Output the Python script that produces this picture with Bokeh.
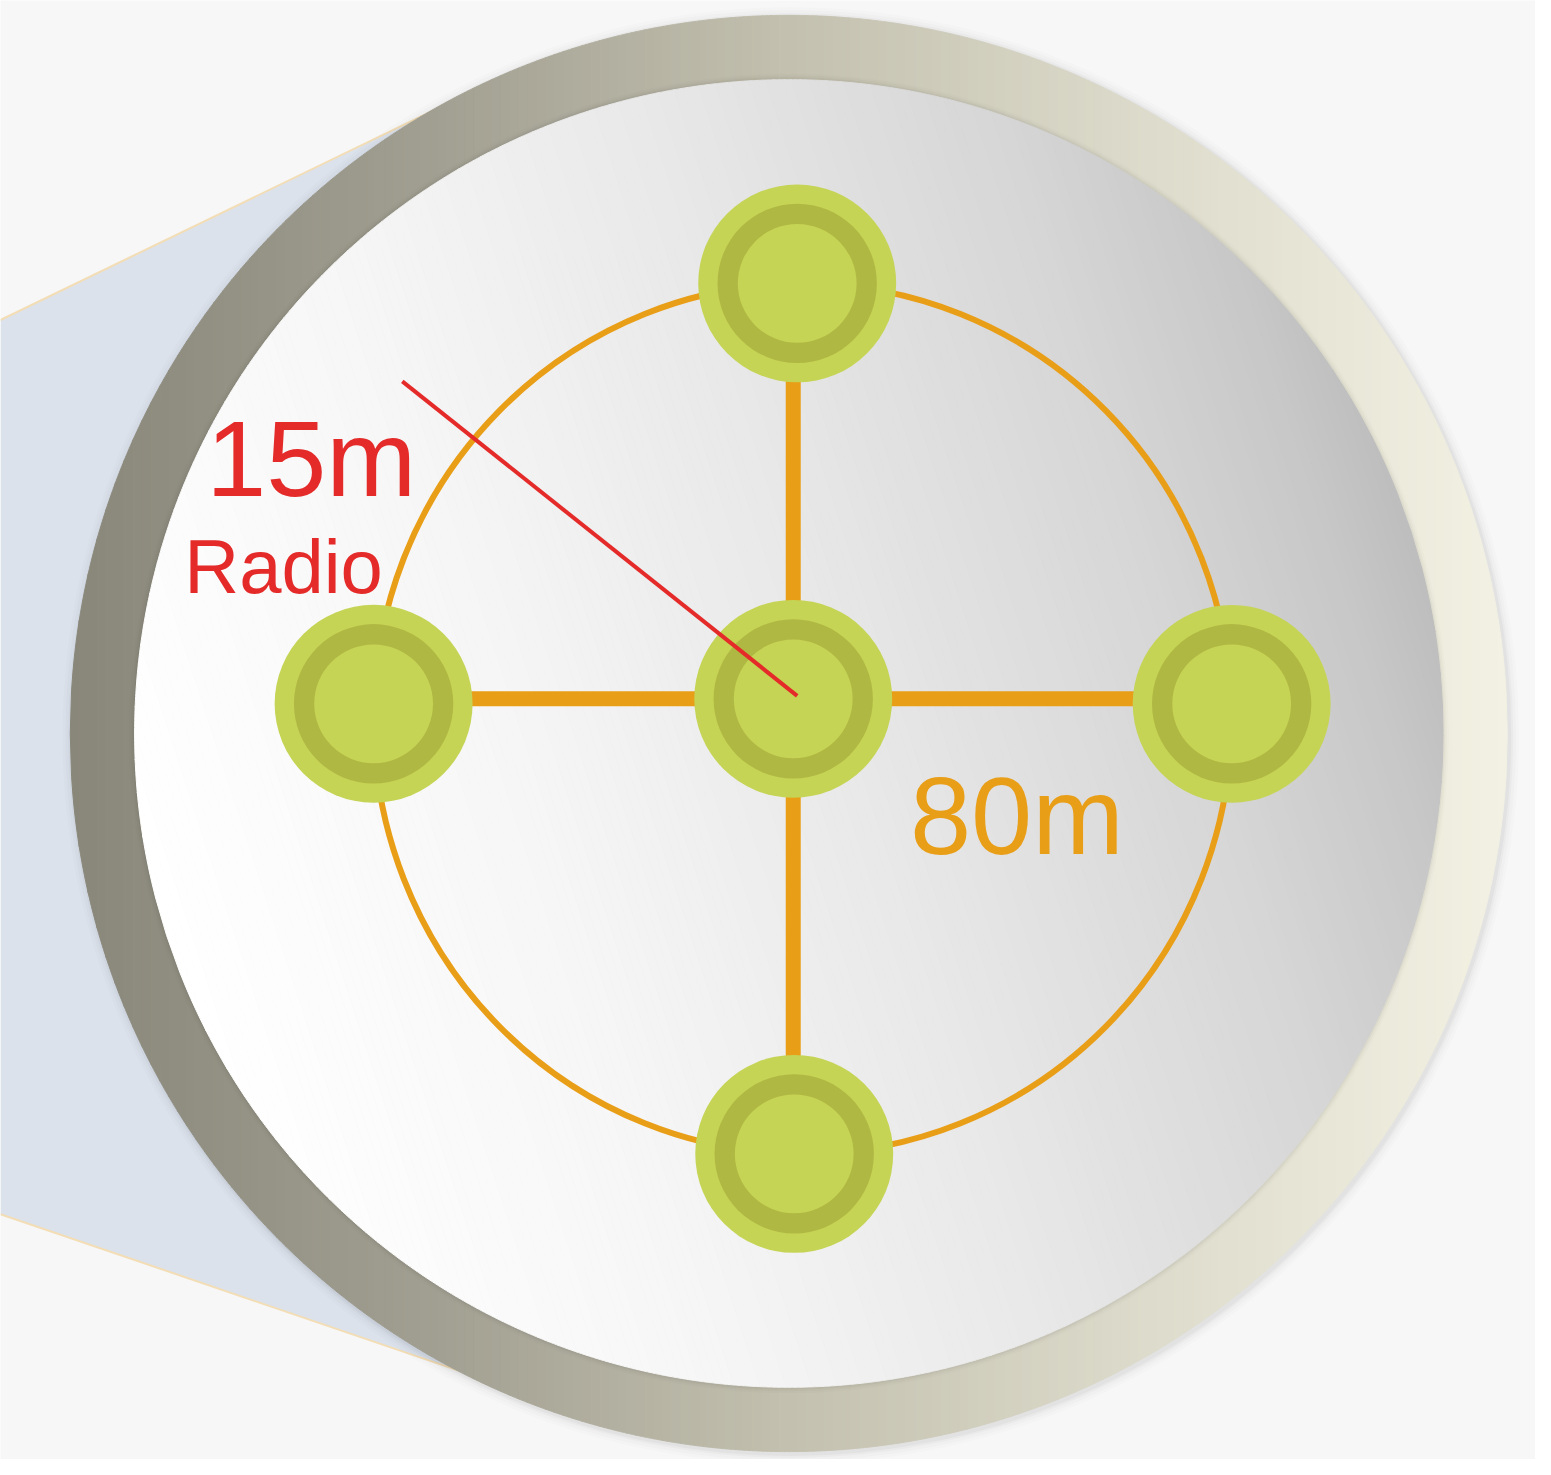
import numpy as np
from bokeh.plotting import figure
from bokeh.models import Range1d
from bokeh.core.properties import value
from bokeh.embed import file_html
from bokeh.resources import INLINE

# ---- data ----
node_names = ["top", "left", "center", "right", "bottom"]
node_x = [805, 377, 801, 1244, 802]
node_y = [286, 711, 706, 711, 1166]
radio_end_x = [406]
radio_end_y = [385]
labels = ["15m", "Radio", "80m"]

# ---- geometry / style ----
W, H = 1535, 1459
CX, CY = 796.5, 741
R_OUT, R_IN = 726, 661
ORANGE = "#e99e18"
RED = "#e42b29"
GREEN = "#c5d454"
GREEN_D = "#b0b844"
BG = "#f7f7f7"

p = figure(width=W, height=H, x_range=Range1d(0, 1551), y_range=Range1d(1475, 0),
           output_backend="svg", toolbar_location=None, x_axis_type=None, y_axis_type=None,
           min_border=0)
p.grid.visible = False
p.outline_line_color = None
p.background_fill_color = BG
p.border_fill_color = BG


def hex2rgb(h):
    return np.array([int(h[i:i + 2], 16) for i in (1, 3, 5)], float)


def interp(stops, t):
    pos = [s[0] for s in stops]
    cols = [hex2rgb(s[1]) for s in stops]
    for i in range(len(pos) - 1):
        if pos[i] <= t <= pos[i + 1]:
            f = (t - pos[i]) / (pos[i + 1] - pos[i])
            c = cols[i] * (1 - f) + cols[i + 1] * f
            return "#%02x%02x%02x" % tuple(int(round(v)) for v in c)
    return stops[-1][1]


def disk_bands(cx, cy, r, angle_deg, stops, n=160):
    a = np.radians(angle_deg)
    ux, uy = np.cos(a), np.sin(a)
    vx, vy = -uy, ux
    edges = np.linspace(-r, r, n + 1)
    xs, ys, cols = [], [], []
    for i in range(n):
        u = np.linspace(edges[i], edges[i + 1], 8)
        v = np.sqrt(np.maximum(r * r - u * u, 0))
        uu = np.concatenate([u, u[::-1]])
        vv = np.concatenate([v, -v[::-1]])
        xs.append(list(cx + uu * ux + vv * vx))
        ys.append(list(cy + uu * uy + vv * vy))
        cols.append(interp(stops, (i + 0.5) / n))
    p.patches(xs, ys, fill_color=cols, line_color=cols, line_width=1)


# blue cone behind the lens
p.patch([0, 450, CX, 480, 0], [323, 105, CY, 1391, 1227],
        fill_color="#dbe2ec", line_color=None)
p.line([0, 450], [323, 105], line_color="#f3ddb5", line_width=2)
p.line([0, 480], [1227, 1391], line_color="#f3ddb5", line_width=2)

# soft shadow around the ring
for k, a in [(10, 0.012), (7, 0.016), (4, 0.022), (2, 0.03)]:
    p.circle(x=[CX + 2], y=[CY + 2], radius=R_OUT + k, fill_color="black",
             fill_alpha=a, line_color=None)

# outer ring (horizontal gradient)
ring_stops = [(0, "#89877a"), (0.25, "#a19f91"), (0.5, "#c3c0af"), (0.75, "#dddbcb"), (1, "#f3f1e3")]
disk_bands(CX, CY, R_OUT, 0, ring_stops)

# soft shadow of disk onto ring
for k, a in [(6, 0.012), (4, 0.02), (2, 0.03)]:
    p.circle(x=[CX], y=[CY], radius=R_IN + k, fill_color="black", fill_alpha=a, line_color=None)

# inner disk (diagonal gradient)
disk_stops = [(0, "#ffffff"), (0.3, "#f6f6f6"), (0.55, "#e8e8e8"), (0.8, "#d6d6d6"), (0.95, "#c6c6c6"), (1, "#bdbdbd")]
disk_bands(CX, CY, R_IN, -18, disk_stops)

# orange circle through outer nodes
ocx = (node_x[1] + node_x[3]) / 2
ocy = (node_y[0] + node_y[4]) / 2
p.ellipse(x=[ocx], y=[ocy], width=node_x[3] - node_x[1], height=node_y[4] - node_y[0],
          fill_color=None, line_color=ORANGE, line_width=6)

# cross links through the center node (axis aligned)
c = node_names.index("center")
t, l, r, b = (node_names.index(n) for n in ("top", "left", "right", "bottom"))
p.segment(x0=[node_x[c], node_x[l]], y0=[node_y[t], node_y[c]],
          x1=[node_x[c], node_x[r]], y1=[node_y[b], node_y[c]],
          line_color=ORANGE, line_width=15)

# nodes
p.circle(x=node_x, y=node_y, radius=100, fill_color=GREEN, line_color=None)
p.circle(x=node_x, y=node_y, radius=80.5, fill_color=GREEN_D, line_color=None)
p.circle(x=node_x, y=node_y, radius=60, fill_color=GREEN, line_color=None)

# radio radius line
p.line([node_x[c] + 4, radio_end_x[0]], [node_y[c] - 3, radio_end_y[0]],
       line_color=RED, line_width=4)

FONT = value("Liberation Sans")
OFF = 0.37  # compensate baseline placement (fraction of font size)


def label(x, baseline, txt, color, size):
    p.text(x=[x], y=[baseline - OFF * size], text=[txt], text_color=color, text_font=FONT,
           text_font_size=f"{size}px", text_align="center", text_baseline="alphabetic")


label(314, 503, labels[0], RED, 108)
label(286, 600, labels[1], RED, 76)
label(1027, 865, labels[2], ORANGE, 110)

open("out.html", "w").write(file_html(p, INLINE))
